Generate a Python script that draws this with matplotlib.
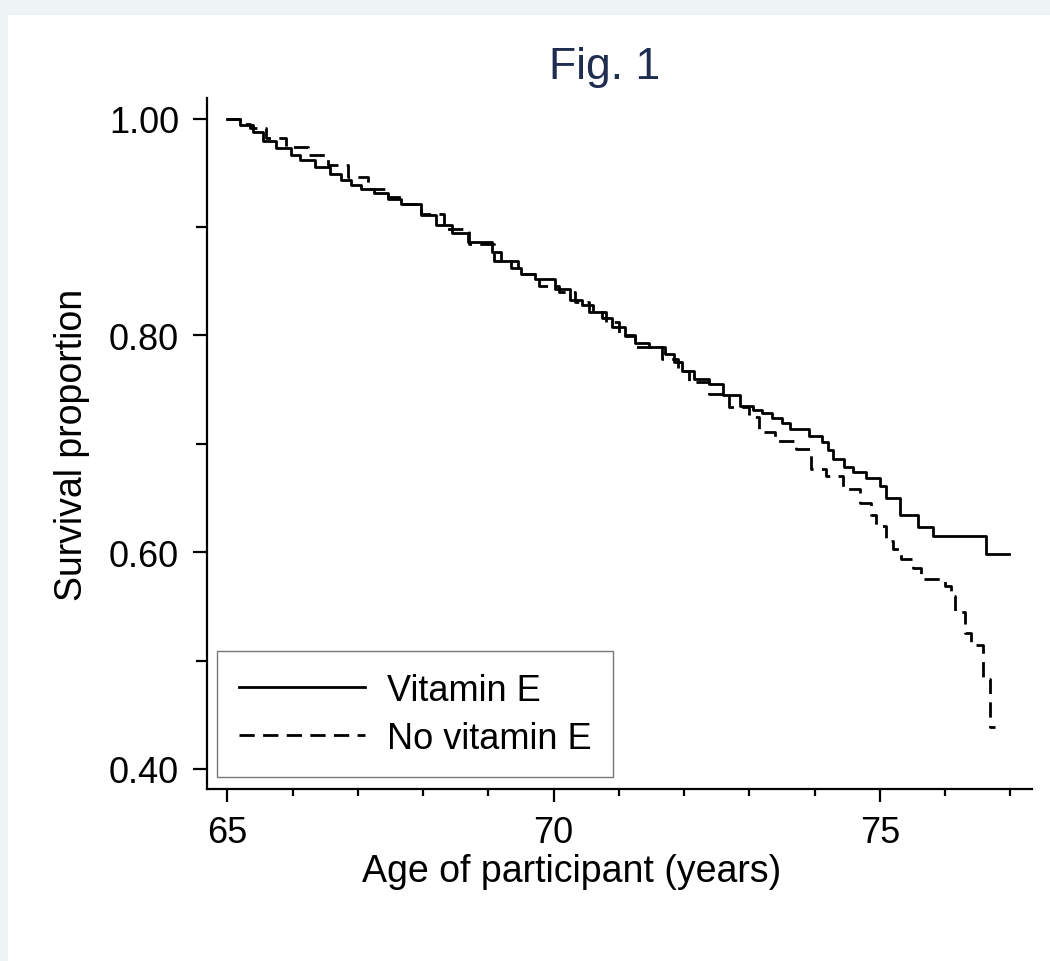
import matplotlib
matplotlib.use("Agg")
import matplotlib.pyplot as plt
from matplotlib.patches import Rectangle
from matplotlib.ticker import MultipleLocator, FixedLocator, FixedFormatter

plt.rcParams['font.family'] = ['Liberation Sans', 'DejaVu Sans']

# Kaplan-Meier estimates (age in years, survival proportion)
vite_age = [65.00, 65.20, 65.40, 65.55, 65.75, 65.97, 66.12, 66.35, 66.58, 66.74,
            66.90, 67.05, 67.25, 67.46, 67.66, 67.97, 68.20, 68.45, 68.69, 69.05,
            69.20, 69.35, 69.50, 69.71, 70.02, 70.25, 70.43, 70.60, 70.74, 70.90,
            71.09, 71.25, 71.46, 71.71, 71.85, 71.97, 72.15, 72.38, 72.60, 72.85,
            73.05, 73.20, 73.35, 73.50, 73.62, 73.92, 74.12, 74.20, 74.28, 74.45,
            74.58, 74.78, 75.00, 75.09, 75.30, 75.58, 75.82, 76.63, 76.98]
vite_surv = [1.000, 0.994, 0.988, 0.979, 0.973, 0.966, 0.962, 0.955, 0.949, 0.943,
             0.939, 0.935, 0.931, 0.926, 0.921, 0.911, 0.902, 0.894, 0.886, 0.877,
             0.869, 0.862, 0.857, 0.852, 0.843, 0.833, 0.828, 0.822, 0.816, 0.808,
             0.799, 0.793, 0.789, 0.783, 0.775, 0.767, 0.760, 0.755, 0.745, 0.735,
             0.731, 0.728, 0.724, 0.719, 0.714, 0.707, 0.702, 0.694, 0.686, 0.679,
             0.674, 0.668, 0.661, 0.650, 0.634, 0.623, 0.615, 0.598, 0.598]

novite_age = [65.00, 65.20, 65.35, 65.60, 65.90, 66.23, 66.54, 66.85, 67.15, 67.46,
              67.70, 67.97, 68.32, 68.70, 69.09, 69.46, 69.77, 70.08, 70.33, 70.55,
              70.80, 71.00, 71.25, 71.66, 71.90, 72.08, 72.38, 72.69, 73.00, 73.15,
              73.40, 73.71, 73.94, 74.17, 74.43, 74.69, 74.86, 74.94, 75.09, 75.20,
              75.33, 75.50, 75.63, 76.00, 76.09, 76.15, 76.30, 76.40, 76.58, 76.69,
              76.77]
novite_surv = [1.000, 0.995, 0.991, 0.982, 0.974, 0.966, 0.957, 0.946, 0.935, 0.928,
               0.921, 0.912, 0.898, 0.884, 0.869, 0.857, 0.846, 0.840, 0.831, 0.822,
               0.812, 0.800, 0.789, 0.778, 0.767, 0.757, 0.746, 0.734, 0.725, 0.711,
               0.703, 0.695, 0.677, 0.670, 0.658, 0.645, 0.634, 0.624, 0.610, 0.603,
               0.594, 0.585, 0.575, 0.569, 0.560, 0.545, 0.525, 0.514, 0.483, 0.439,
               0.439]

y_ticks = [0.40, 0.60, 0.80, 1.00]
y_labels = ['0.40', '0.60', '0.80', '1.00']
x_ticks = [65, 70, 75]

fig = plt.figure(figsize=(10.5, 9.62), dpi=100)
fig.patch.set_facecolor('#eef3f3')
fig.patches.append(Rectangle((8 / 1050, 0), 1.0, 1 - 16 / 962, transform=fig.transFigure,
                             facecolor='white', edgecolor='none', zorder=-10))

ax = fig.add_axes([207 / 1050, 1 - 790 / 962, 825 / 1050, 691 / 962])
ax.set_facecolor('white')

ax.plot(vite_age, vite_surv, drawstyle='steps-post', color='black', lw=2.0,
        label='Vitamin E')
ax.plot(novite_age, novite_surv, drawstyle='steps-post', color='black', lw=2.0,
        linestyle=(0, (5.5, 3)), label='No vitamin E')

ax.set_xlim(64.69, 77.33)
ax.set_ylim(0.3815, 1.019)

for s in ['top', 'right']:
    ax.spines[s].set_visible(False)
for s in ['left', 'bottom']:
    ax.spines[s].set_linewidth(1.6)

ax.xaxis.set_major_locator(FixedLocator(x_ticks))
ax.xaxis.set_minor_locator(MultipleLocator(1))
ax.yaxis.set_major_locator(FixedLocator(y_ticks))
ax.yaxis.set_major_formatter(FixedFormatter(y_labels))
ax.yaxis.set_minor_locator(FixedLocator([0.5, 0.7, 0.9]))

ax.tick_params(axis='y', which='major', length=10, width=1.6, labelsize=26, pad=10)
ax.tick_params(axis='y', which='minor', length=8, width=1.6)
ax.tick_params(axis='x', which='major', length=9.5, width=1.6, labelsize=26, pad=9)
ax.tick_params(axis='x', which='minor', length=5, width=1.6)

ax.set_xlabel('Age of participant (years)', fontsize=27)
ax.xaxis.set_label_coords(0.442, -0.092)
ax.set_ylabel('Survival proportion', fontsize=27, labelpad=14)
fig.text(605 / 1050, 1 - 68 / 962, 'Fig. 1', fontsize=32, color='#1f2d50',
         ha='center', va='center')

leg = ax.legend(loc='lower left', bbox_to_anchor=(0.012, 0.017), borderaxespad=0,
                fontsize=26, handlelength=3.5, handletextpad=0.6, labelspacing=0.35,
                borderpad=0.6, fancybox=False, frameon=True)
leg.get_frame().set_edgecolor('#555555')
leg.get_frame().set_linewidth(1.0)

fig.savefig('out.png', dpi=100, facecolor=fig.get_facecolor())
